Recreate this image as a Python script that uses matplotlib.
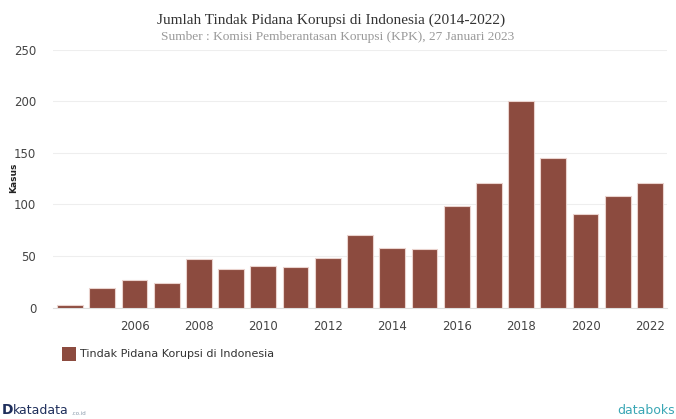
import matplotlib.pyplot as plt
from matplotlib.patches import Rectangle

# --------------------------------------------------------------
# Data
# --------------------------------------------------------------
years = list(range(2004, 2023))
cases = [2, 19, 27, 24, 47, 37, 40, 39, 48, 70, 58, 57, 99, 121, 200, 145, 91, 108, 121]
x_ticks = list(range(2006, 2023, 2))
y_ticks = [0, 50, 100, 150, 200, 250]

title = 'Jumlah Tindak Pidana Korupsi di Indonesia (2014-2022)'
subtitle = 'Sumber : Komisi Pemberantasan Korupsi (KPK), 27 Januari 2023'
series_name = 'Tindak Pidana Korupsi di Indonesia'

bar_color = '#8c4b3f'

# --------------------------------------------------------------
# Plot
# --------------------------------------------------------------
fig = plt.figure(figsize=(6.76, 4.19), dpi=100)
ax = fig.add_axes([0.0784, 0.2661, 0.9083, 0.6146])

ax.bar(years, cases, width=0.8, color=bar_color, edgecolor='#ead3ce', linewidth=0.8, zorder=3)

ax.set_xlim(2003.47, 2022.53)
ax.set_ylim(0, 250)
ax.set_xticks(x_ticks)
ax.set_yticks(y_ticks)
ax.tick_params(axis='both', length=0, labelsize=8.5, labelcolor='#444444')
ax.tick_params(axis='x', pad=9)
ax.tick_params(axis='y', pad=12)
ax.grid(axis='y', color='#eeeeee', linewidth=0.8, zorder=0)
for s in ['top', 'right', 'left']:
    ax.spines[s].set_visible(False)
ax.spines['bottom'].set_color('#dddddd')
ax.spines['bottom'].set_linewidth(0.8)

fig.text(0.0205, 0.575, 'Kasus', rotation=90, fontsize=6.5, fontweight='bold',
         ha='center', va='center', color='#222222')

fig.text(0.49, 0.952, title, ha='center', va='center', fontsize=11,
         family='Liberation Serif', color='#333333')
fig.text(0.50, 0.912, subtitle, ha='center', va='center', fontsize=9.6,
         family='Liberation Serif', color='#999999')

# legend
fig.patches.append(Rectangle((0.0917, 0.138), 0.0207, 0.034, transform=fig.transFigure,
                             facecolor=bar_color, edgecolor='none'))
fig.text(0.118, 0.155, series_name, ha='left', va='center', fontsize=8, color='#333333')

# footer logos as text
fig.text(0.002, 0.004, 'D', ha='left', va='bottom', fontsize=10, fontweight='bold', color='#1f2f5c')
fig.text(0.019, 0.004, 'katadata', ha='left', va='bottom', fontsize=9, color='#1f2f5c')
fig.text(0.105, 0.006, '.co.id', ha='left', va='bottom', fontsize=4, color='#8899aa')
fig.text(0.998, 0.004, 'databoks', ha='right', va='bottom', fontsize=9, color='#3aa7b5')

fig.savefig('out.png', dpi=100)
